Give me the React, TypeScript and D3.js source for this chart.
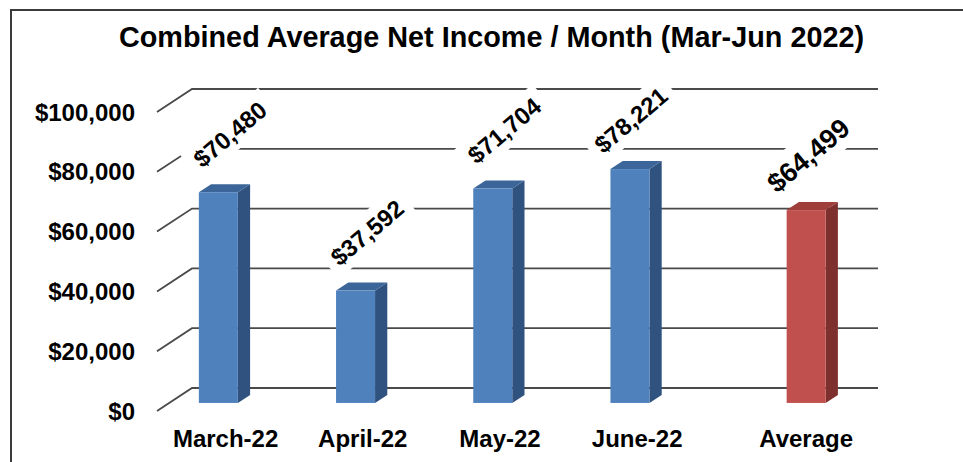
import React from 'react';
import * as d3 from 'd3';

const categories = ['March-22', 'April-22', 'May-22', 'June-22', 'Average'];
const seriesNames = ['Monthly', 'Average'];
const monthlyValues: (number | null)[] = [70480, 37592, 71704, 78221, null];
const averageValues: (number | null)[] = [null, null, null, null, 64499];
const yTicks = [0, 20000, 40000, 60000, 80000, 100000];
const titleText = 'Combined Average Net Income / Month (Mar-Jun 2022)';

const W = 963;
const H = 462;
const FONT = '"Liberation Sans", Arial, Helvetica, sans-serif';

const seriesStyle: Record<string, { front: string; top: string; side: string; fontSize: number; ldx: number; ldy: number }> = {
  Monthly: { front: '#4F81BD', top: '#3C6699', side: '#30527F', fontSize: 24, ldx: 11.5, ldy: -58 },
  Average: { front: '#C0504D', top: '#9E3F3C', side: '#7E302E', fontSize: 27, ldx: 2, ldy: -55 },
};

const fmt = (v: number) => '$' + d3.format(',')(v);

function textWidth(s: string, size: number) {
  let w = 0;
  for (const c of s) {
    if (c === ',' ) w += 0.278;
    else w += 0.556;
  }
  return w * size;
}

export default function App() {
  const left = 157, right = 843;
  const depth = { dx: 35, dy: -23 };
  const z0 = 0.35, z1 = 0.7;

  const y = d3.scaleLinear().domain([0, 100000]).range([411, 112]);
  const x0 = d3.scaleBand<string>().domain(categories).range([left, right]).padding(0);
  const x1 = d3.scaleBand<string>().domain(seriesNames).range([0, x0.bandwidth()]).paddingInner(0).paddingOuter(0.759);

  const seriesValues: Record<string, (number | null)[]> = { Monthly: monthlyValues, Average: averageValues };

  const gridlines = yTicks.map((t) => {
    const yf = y(t);
    const yb = yf + depth.dy;
    return (
      <g key={t}>
        <path d={`M${left},${yf}L${left + depth.dx},${yb}L${right + depth.dx},${yb}`} fill="none" stroke="#4a4a4a" strokeWidth={1.8} />
      </g>
    );
  });

  const tickLabels = yTicks.map((t) => (
    <text key={t} x={135} y={y(t) + 8.5} textAnchor="end" fontFamily={FONT} fontWeight="bold" fontSize={24} fill="#000">
      {fmt(t)}
    </text>
  ));

  const bars: JSX.Element[] = [];
  const labels: JSX.Element[] = [];
  const barCenters: Record<string, number> = {};
  const angle = -40;
  const rad = (angle * Math.PI) / 180;
  const topLimit = y(100000) + depth.dy + 31;

  seriesNames.forEach((s) => {
    const st = seriesStyle[s];
    seriesValues[s].forEach((v, i) => {
      if (v == null) return;
      const cat = categories[i];
      const bw = x1.bandwidth();
      const xl = (x0(cat) as number) + (x1(s) as number) + depth.dx * z0;
      const xr = xl + bw;
      const yTop = y(v) + depth.dy * z0;
      const yBase = y(0) + depth.dy * z0;
      const ddx = depth.dx * (z1 - z0);
      const ddy = depth.dy * (z1 - z0);
      barCenters[cat] = (xl + xr) / 2;
      bars.push(
        <g key={`${s}-${i}`}>
          <polygon points={`${xr},${yTop} ${xr + ddx},${yTop + ddy} ${xr + ddx},${yBase + ddy} ${xr},${yBase}`} fill={st.side} />
          <polygon points={`${xl},${yTop} ${xl + ddx},${yTop + ddy} ${xr + ddx},${yTop + ddy} ${xr},${yTop}`} fill={st.top} />
          <rect x={xl} y={yTop} width={bw} height={yBase - yTop} fill={st.front} />
        </g>
      );
      let cx = (xl + xr) / 2 + st.ldx;
      let cy = yTop + st.ldy;
      if (cy < topLimit) {
        const t = (topLimit - cy) / Math.sin(-rad);
        cx -= t * Math.cos(rad);
        cy = topLimit;
      }
      const label = fmt(v);
      const tw = textWidth(label, st.fontSize);
      const bh = st.fontSize * 1.45;
      labels.push(
        <g key={`l-${s}-${i}`} transform={`translate(${cx},${cy}) rotate(${angle})`}>
          <rect x={-tw / 2 - 8} y={-bh / 2} width={tw + 16} height={bh} fill="#fff" />
          <text x={0} y={st.fontSize * 0.36} textAnchor="middle" fontFamily={FONT} fontWeight="bold" fontSize={st.fontSize} fill="#000">
            {label}
          </text>
        </g>
      );
    });
  });

  const catLabels = categories.map((c) => {
    const onlyAverage = monthlyValues[categories.indexOf(c)] == null;
    const cx = onlyAverage ? barCenters[c] : (x0(c) as number) + x0.bandwidth() / 2;
    return (
      <text key={c} x={cx} y={447} textAnchor="middle" fontFamily={FONT} fontWeight="bold" fontSize={24} fill="#000">
        {c}
      </text>
    );
  });

  return (
    <svg width={W} height={H} style={{ position: 'absolute', left: 0, top: 0, background: '#fff' }}>
      <rect x={0} y={0} width={W} height={H} fill="#fff" />
      <path d={`M11,${H}V10H${W}`} fill="none" stroke="#3a3a3a" strokeWidth={2} />
      <text x={491.5} y={47} textAnchor="middle" fontFamily={FONT} fontWeight="bold" fontSize={28.8} fill="#000">
        {titleText}
      </text>
      {gridlines}
      {bars}
      {labels}
      {tickLabels}
      {catLabels}
    </svg>
  );
}
